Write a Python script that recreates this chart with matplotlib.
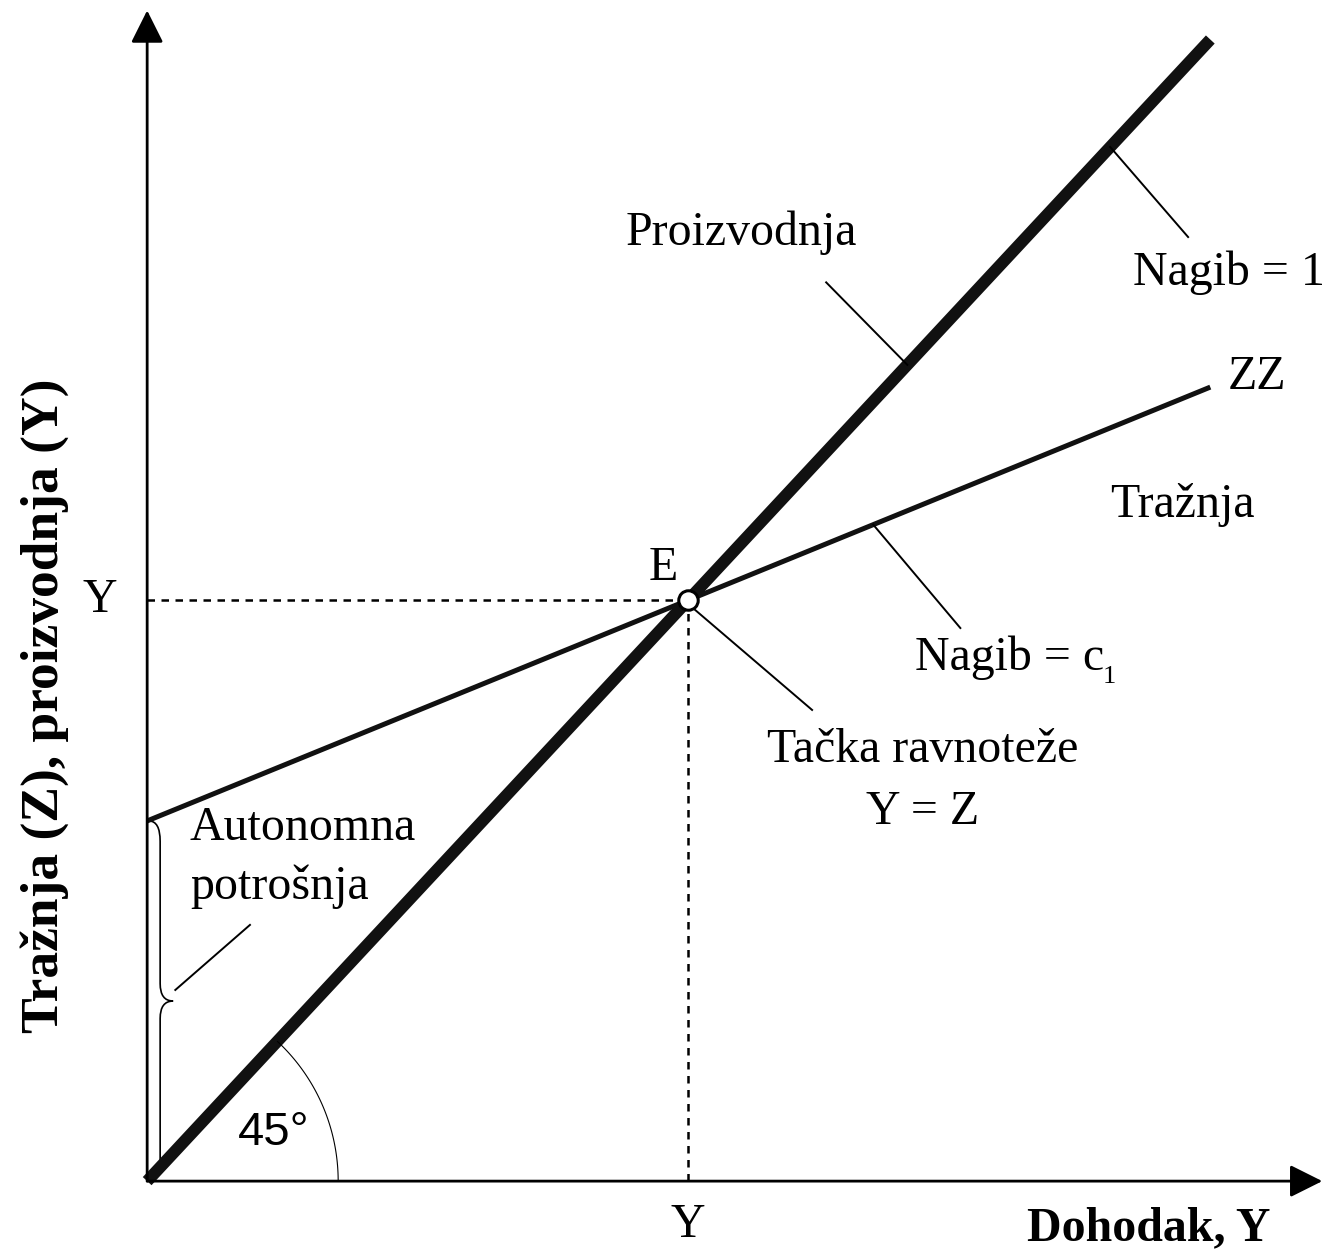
import numpy as np
import matplotlib.pyplot as plt
from matplotlib.path import Path
from matplotlib.patches import PathPatch

# values (equilibrium income scaled to 100)
autonomna = 62.0          # autonomous consumption, ZZ intercept
c1 = 0.38                 # slope of ZZ
dohodak = [0.0, 196.5]    # income range drawn
y_eq = autonomna / (1 - c1)

proizvodnja = list(dohodak)                      # slope 1
traznja = [autonomna + c1 * x for x in dohodak]  # ZZ

plt.rcParams['font.family'] = ['Liberation Serif', 'DejaVu Serif']

fig = plt.figure(figsize=(13.25, 12.52), dpi=100)
ax = fig.add_axes([0, 0, 1, 1])
ax.set_xlim(-27.2, 217.7)
ax.set_ylim(-12.2, 203.3)
ax.axis('off')

# axes with arrow heads
arr = dict(arrowstyle='-|>,head_length=1.0,head_width=0.5', lw=2, color='black',
           shrinkA=0, shrinkB=0, mutation_scale=20)
ax.annotate('', xy=(0, 201.5), xytext=(0, 0), arrowprops=arr)
ax.annotate('', xy=(217.2, 0), xytext=(0, 0), arrowprops=arr)

# lines
ax.plot(dohodak, proizvodnja, color='#111111', lw=8.6, solid_capstyle='butt')
ax.plot(dohodak, traznja, color='#111111', lw=3.6, solid_capstyle='butt')

# dotted guides to equilibrium
ax.plot([0, y_eq], [y_eq, y_eq], color='black', lw=1.8, dashes=(3, 2.6))
ax.plot([y_eq, y_eq], [0, y_eq], color='black', lw=1.8, dashes=(3, 2.6))
ax.plot([y_eq], [y_eq], marker='o', ms=14, mfc='white', mec='black', mew=2.2, zorder=5)

# 45 degree arc
t = np.linspace(0, np.arctan2(1139, 1063), 60)
ax.plot(191 * np.cos(t) / 5.41, 191 * np.sin(t) / 5.81, color='black', lw=0.8)
ax.text(23.3, 8.3, '45°', family='Liberation Sans', fontsize=34, ha='center', va='center')

# brace for autonomous consumption
A = autonomna
verts = [(0.3, A), (2.4, A), (2.4, A - 3.5), (2.4, A / 2 + 3), (2.4, A / 2), (4.8, A / 2),
         (2.4, A / 2), (2.4, A / 2 - 3), (2.4, 3.5), (2.4, 0), (0.3, 0)]
codes = [Path.MOVETO, Path.CURVE3, Path.CURVE3, Path.LINETO, Path.CURVE3, Path.CURVE3,
         Path.CURVE3, Path.CURVE3, Path.LINETO, Path.CURVE3, Path.CURVE3]
ax.add_patch(PathPatch(Path(verts, codes), fill=False, lw=1.2, color='black'))

# leader lines
lead = dict(color='black', lw=1.4)
ax.plot([125.5, 140.5], [154.7, 140.5], **lead)
ax.plot([178.0, 192.4], [178.0, 162.5], **lead)
ax.plot([134.2, 150.3], [autonomna + c1 * 134.2, 95.2], **lead)
ax.plot([101.3, 122.9], [98.3, 81.1], **lead)
ax.plot([5.2, 19.0], [32.9, 44.1], **lead)

fs = 34.5
ax.text(109.8, 163.3, 'Proizvodnja', fontsize=fs, ha='center', va='center')
ax.text(182.3, 156.3, 'Nagib = 1', fontsize=fs, ha='left', va='center')
ax.text(199.8, 138.4, 'ZZ', fontsize=fs, ha='left', va='center')
ax.text(178.0, 116.4, 'Tražnja', fontsize=fs, ha='left', va='center')
ax.text(142.0, 90.0, 'Nagib = c', fontsize=fs, ha='left', va='center')
ax.text(176.6, 86.8, '1', fontsize=19, ha='left', va='center')
ax.text(95.4, 105.5, 'E', fontsize=fs, ha='center', va='center')
ax.text(143.3, 74.2, 'Tačka ravnoteže', fontsize=fs, ha='center', va='center')
ax.text(143.3, 63.5, 'Y = Z', fontsize=fs, ha='center', va='center')
ax.text(7.9, 60.8, 'Autonomna', fontsize=fs, ha='left', va='center')
ax.text(7.9, 50.6, 'potrošnja', fontsize=fs, ha='left', va='center')
ax.text(-8.7, y_eq, 'Y', fontsize=fs, ha='center', va='center')
ax.text(y_eq, -7.6, 'Y', fontsize=fs, ha='center', va='center')
ax.text(207.6, -8.1, 'Dohodak, Y', fontsize=fs, fontweight='bold', ha='right', va='center')
ax.text(-18.9, 81.9, 'Tražnja (Z), proizvodnja (Y)', fontsize=38.5, fontweight='bold',
        rotation=90, ha='center', va='center')

fig.savefig('out.png', dpi=100)
